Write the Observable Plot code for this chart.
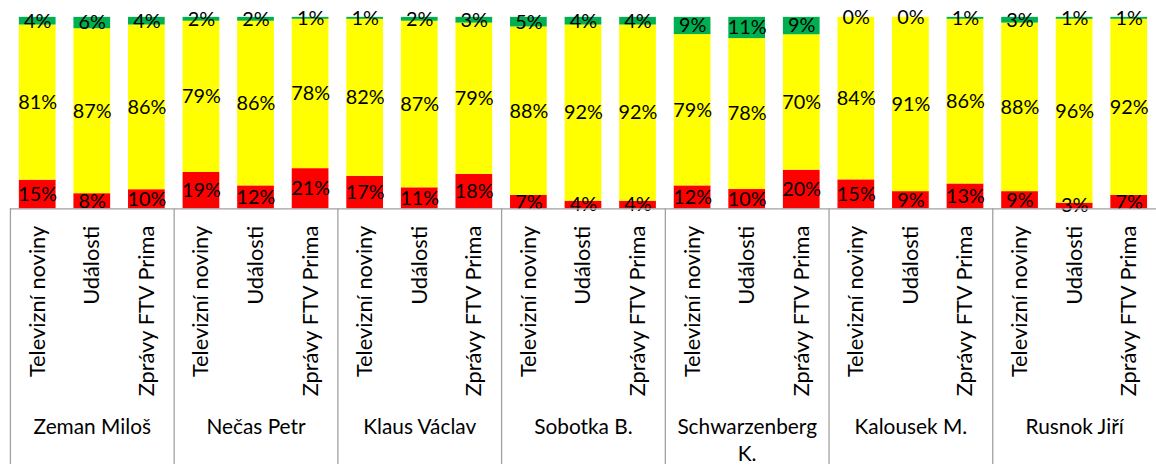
<!DOCTYPE html>
<html>
<head>
<meta charset="utf-8">
<script src="https://cdn.jsdelivr.net/npm/d3@7"></script>
<script src="https://cdn.jsdelivr.net/npm/@observablehq/plot@0.6"></script>
<style>
  html, body { margin: 0; padding: 0; background: #fff; overflow: hidden; }
</style>
</head>
<body>
<div id="chart"></div>
<script>
const groups = ["Zeman Miloš", "Nečas Petr", "Klaus Václav", "Sobotka B.", "Schwarzenberg K.", "Kalousek M.", "Rusnok Jiří"];
const channels = ["Televizní noviny", "Události", "Zprávy FTV Prima"];
const sentiments = ["negativní", "neutrální", "pozitivní"];
const negative = [15, 8, 10, 19, 12, 21, 17, 11, 18, 7, 4, 4, 12, 10, 20, 15, 9, 13, 9, 3, 7];
const neutral  = [81, 87, 86, 79, 86, 78, 82, 87, 79, 88, 92, 92, 79, 78, 70, 84, 91, 86, 88, 96, 92];
const positive = [4, 6, 4, 2, 2, 1, 1, 2, 3, 5, 4, 4, 9, 11, 9, 0, 0, 1, 3, 1, 1];
const colors = ["#FF0000", "#FFFF00", "#00B050"];

const series = [negative, neutral, positive];
const rows = [];
for (let i = 0; i < negative.length; i++) {
  sentiments.forEach((s, k) => {
    rows.push({group: groups[Math.floor(i / 3)], channel: channels[i % 3], sentiment: s, value: series[k][i]});
  });
}

const font = "Lato, 'Open Sans', sans-serif";
const chart = Plot.plot({
  width: 1165,
  height: 468,
  marginTop: 17,
  marginBottom: 258,
  marginLeft: 10,
  marginRight: 0,
  style: {fontFamily: font, fontSize: "22px", color: "#000", background: "#fff"},
  fx: {domain: groups, padding: 0, axis: null},
  x: {domain: channels, paddingInner: 0.33, paddingOuter: 0.165, axis: null},
  y: {domain: [0, 1], axis: null},
  color: {domain: sentiments, range: colors},
  marks: [
    Plot.barY(rows, Plot.stackY({fx: "group", x: "channel", y: "value", z: "sentiment", fill: "sentiment", offset: "normalize"})),
    Plot.text(rows, Plot.stackY({fx: "group", x: "channel", y: "value", z: "sentiment", offset: "normalize", text: d => d.value + "%", fontSize: 20, fill: "#000"})),
    Plot.axisX({tickRotate: -90, tickSize: 0, tickPadding: 17, fontSize: 22, label: null, fill: "#000"}),
    Plot.ruleY([0], {stroke: "#a0a0a0", strokeWidth: 1.3}),
    Plot.frame({anchor: "left", stroke: "#a0a0a0", strokeWidth: 1.3, insetTop: 193, insetBottom: -258}),
    Plot.text(groups, {fx: d => d, text: d => d, frameAnchor: "bottom", lineAnchor: "top", dy: 208, lineWidth: 7.6, lineHeight: 1.27, fontSize: 21, fill: "#000"})
  ]
});
document.getElementById("chart").appendChild(chart);
</script>
</body>
</html>
